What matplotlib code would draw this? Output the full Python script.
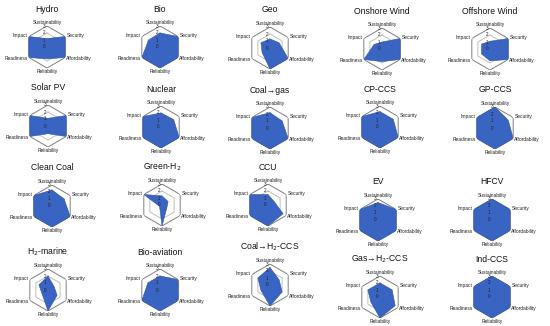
import numpy as np
import matplotlib
matplotlib.use('Agg')
import matplotlib.pyplot as plt

plt.rcParams['font.family'] = ['Liberation Sans', 'DejaVu Sans']

axes_names = ['Sustainability', 'Security', 'Affordability', 'Reliability', 'Readiness', 'Impact']
techs = ['Hydro', 'Bio', 'Geo', 'Onshore Wind', 'Offshore Wind',
         'Solar PV', 'Nuclear', 'Coal\u2192gas', 'CP-CCS', 'GP-CCS',
         'Clean Coal', 'Green-H$_2$', 'CCU', 'EV', 'HFCV',
         'H$_2$-marine', 'Bio-aviation', 'Coal\u2192H$_2$-CCS', 'Gas\u2192H$_2$-CCS', 'Ind-CCS']

# scores: Sustainability, Security, Affordability, Reliability, Readiness, Impact
hydro = [1.2, 3, 3, 1.7, 3, 3]
bio = [2.0, 3, 3, 3, 3, 1.9]
geo = [1.3, 1.5, 3, 3, 1.3, 1.5]
onshore = [1.0, 3, 3, 1.8, 3, 1.3]
offshore = [1.1, 3, 3, 1.7, 1.4, 1.4]
solar = [1.1, 3, 3, 1.1, 3, 3]
nuclear = [2.0, 2.1, 3, 3, 3, 3]
coal_gas = [2.2, 2.0, 3, 3, 3, 3]
cp_ccs = [2.2, 2.2, 3, 3, 3, 3]
gp_ccs = [3, 2.2, 3, 3, 3, 3]
clean_coal = [2.3, 2.0, 3, 3, 3, 3]
green_h2 = [1.3, 1.0, 0.8, 3, 0.4, 3]
ccu = [1.5, 1.0, 2.5, 3, 3, 3]
ev = [2.5, 3, 3, 3, 3, 3]
hfcv = [3, 3, 3, 3, 3, 3]
h2_marine = [2.0, 1.0, 1.5, 3, 1.0, 1.5]
bio_aviation = [2.0, 3, 3, 3, 3, 2.0]
coal_h2_ccs = [2.5, 1.5, 2.0, 3, 1.5, 2.0]
gas_h2_ccs = [2.0, 2.0, 2.5, 3, 1.5, 2.0]
ind_ccs = [3, 3, 3, 3, 3, 3]

scores = [hydro, bio, geo, onshore, offshore, solar, nuclear, coal_gas, cp_ccs, gp_ccs,
          clean_coal, green_h2, ccu, ev, hfcv, h2_marine, bio_aviation, coal_h2_ccs,
          gas_h2_ccs, ind_ccs]

# hexagon centres in pixels (from top left)
centers = [(47, 47), (160, 47), (270, 48), (382, 49), (490, 49),
           (48, 126), (161, 127), (270, 128), (380, 127), (495, 128),
           (52, 206), (162, 205), (268, 205), (378, 220), (492, 220),
           (48, 290), (160, 290), (270, 285), (380, 297), (492, 297)]

W, H = 550, 326
R = 21
fig = plt.figure(figsize=(W / 100, H / 100), dpi=100)
fig.patch.set_facecolor('white')

theta = np.deg2rad(np.arange(6) * 60)
theta_c = np.append(theta, theta[0])
label_pos = [('center', 'bottom'), ('left', 'center'), ('left', 'center'),
             ('center', 'top'), ('right', 'center'), ('right', 'center')]

for name, vals, (cx, cy) in zip(techs, scores, centers):
    ax = fig.add_axes([(cx - R) / W, 1 - (cy + R) / H, 2 * R / W, 2 * R / H], projection='polar')
    ax.set_theta_zero_location('N')
    ax.set_theta_direction(-1)
    ax.set_ylim(0, 3)
    ax.grid(False)
    ax.spines['polar'].set_visible(False)
    ax.set_xticks([])
    ax.set_yticks([])
    ax.patch.set_alpha(0)
    for ring, c in [(2, '#bfbfbf'), (3, '#7f7f7f')]:
        ax.plot(theta_c, [ring] * 7, color=c, lw=0.7, zorder=1)
    v = np.append(vals, vals[0])
    ax.fill(theta_c, v, color='#3a64c2', zorder=2, lw=0)
    ax.plot(theta_c, v, color='#2f55a8', lw=0.4, zorder=3)
    for t, lab, (ha, va) in zip(theta, axes_names, label_pos):
        ax.text(t, 3.2, lab, ha=ha, va=va, fontsize=3.5, color='#222222')
    for k in range(4):
        ax.annotate(str(k), (0, k), xytext=(-1, 0), textcoords='offset points',
                    ha='right', va='center', fontsize=3.3, color='#222222', zorder=4)
    ax.text(0.5, 0.5 + 38 / (2 * R), name, transform=ax.transAxes,
            ha='center', va='center', fontsize=6.2, color='#111111')

fig.savefig('out.png', dpi=100)
